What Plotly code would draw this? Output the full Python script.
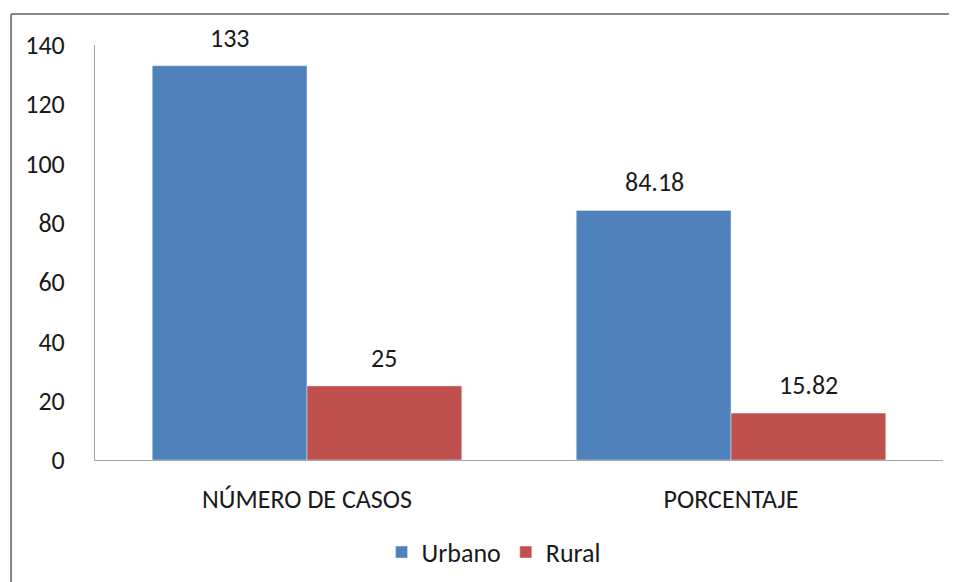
import plotly.graph_objects as go

categories = ["NÚMERO DE CASOS", "PORCENTAJE"]
urbano = [133, 84.18]
rural = [25, 15.82]
series_names = ["Urbano", "Rural"]
y_ticks = [0, 20, 40, 60, 80, 100, 120, 140]

font_family = "Calibri, Carlito, 'Noto Sans', sans-serif"

fig = go.Figure()
fig.add_trace(go.Bar(x=categories, y=urbano, name=series_names[0],
                     marker_color="#4F81BD"))
fig.add_trace(go.Bar(x=categories, y=rural, name=series_names[1],
                     marker_color="#C0504D"))

# value labels above each bar
annotations = []
for vals, shift in [(urbano, -77), (rural, 77)]:
    for c, v in zip(categories, vals):
        annotations.append(dict(
            x=c, y=v, text=str(v), showarrow=False,
            xshift=shift, yshift=10, yanchor="bottom",
            font=dict(size=26, color="#1a1a1a"),
        ))

# chart frame: only the top and left edges are visible in the crop
frame = dict(color="#878787", width=2)
shapes = [
    dict(type="line", xref="paper", yref="paper",
         x0=-0.099, y0=1.0747, x1=1.1, y1=1.0747, line=frame),
    dict(type="line", xref="paper", yref="paper",
         x0=-0.099, y0=1.0747, x1=-0.099, y1=-0.4, line=frame),
]

# the page body adds an 8px offset, margins are set with that in mind
fig.update_layout(
    width=957, height=582,
    margin=dict(l=87, r=22, t=37, b=130, autoexpand=False),
    paper_bgcolor="white", plot_bgcolor="white",
    font=dict(family=font_family, size=26, color="#1a1a1a"),
    barmode="group", bargap=0.27, bargroupgap=0,
    showlegend=True,
    legend=dict(orientation="h", x=0.470, xanchor="center",
                y=-0.222, yanchor="middle", font=dict(size=26)),
    annotations=annotations,
    shapes=shapes,
    xaxis=dict(showline=True, linecolor="#A6A6A6", linewidth=1,
               ticks="", ticklabelstandoff=16, tickfont=dict(size=26),
               automargin=False),
    yaxis=dict(range=[0, 140], tickvals=y_ticks, showgrid=False,
               zeroline=False, showline=True, linecolor="#A6A6A6",
               linewidth=1, ticks="", ticklabelstandoff=24,
               tickfont=dict(size=26), automargin=False),
)

fig.write_html("out.html")
